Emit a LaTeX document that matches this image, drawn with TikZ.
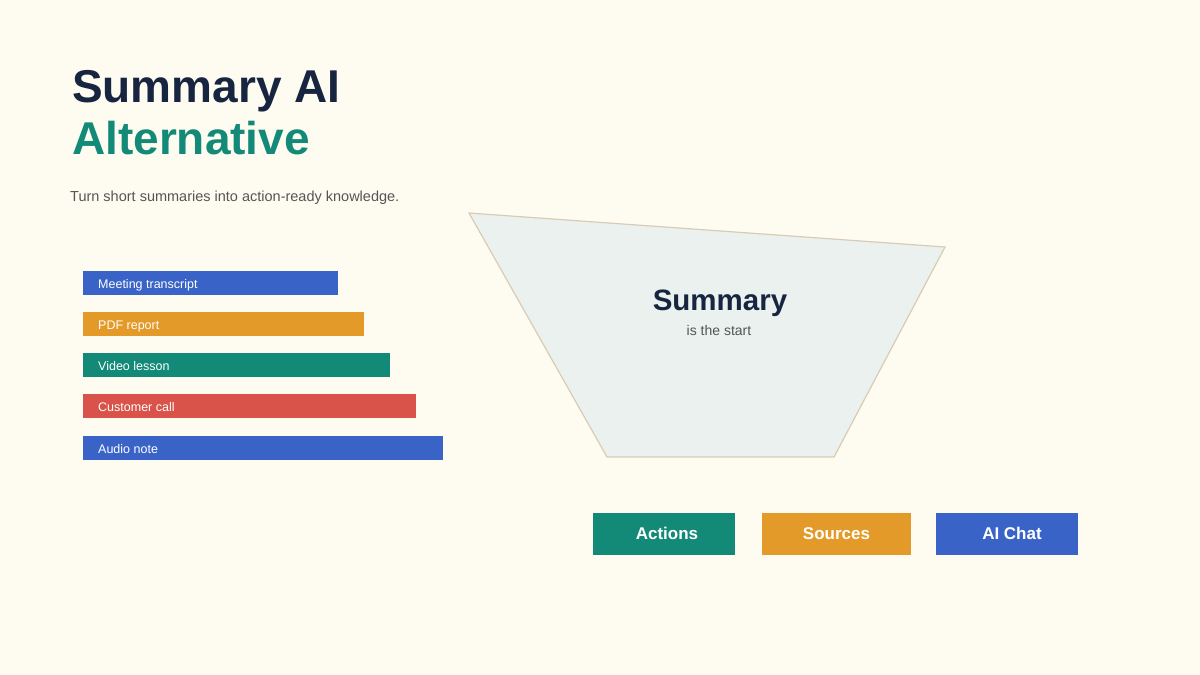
\documentclass[tikz,border=0pt]{standalone}
\usepackage{fontspec}
\setmainfont{Liberation Sans}
\definecolor{bg}{HTML}{FEFCF1}
\definecolor{navy}{HTML}{172540}
\definecolor{teal}{HTML}{138A78}
\definecolor{blu}{HTML}{3A63C8}
\definecolor{orng}{HTML}{E39A28}
\definecolor{redd}{HTML}{D9534A}
\definecolor{gry}{HTML}{555555}
\definecolor{funfill}{HTML}{EAF1EF}
\definecolor{funline}{HTML}{D8CCB4}
\begin{document}
\begin{tikzpicture}[x=1pt,y=-1pt,
  bartext/.style={anchor=base west,inner sep=0pt,text=white,font=\fontsize{12.5}{14}\selectfont},
  btntext/.style={anchor=base,inner sep=0pt,text=white,font=\fontsize{17}{20}\selectfont\bfseries}]
\fill[bg] (0,0) rectangle (1200,675);
\useasboundingbox (0,0) rectangle (1200,675);
\node[anchor=base west,inner sep=0pt,text=navy,font=\fontsize{46}{50}\selectfont\bfseries] (t1) at (72,102) {Summary AI};
\node[anchor=base west,inner sep=0pt,text=teal,font=\fontsize{46}{50}\selectfont\bfseries] (t2) at (72,154) {Alternative};
\node[anchor=base west,inner sep=0pt,text=gry,font=\fontsize{14.5}{16}\selectfont] (sub) at (70,201) {Turn short summaries into action-ready knowledge.};
% bars
\fill[blu] (83,271) rectangle (338,295);
\node[bartext] (b1) at (98,288) {Meeting transcript};
\fill[orng] (83,312) rectangle (364,336);
\node[bartext] (b2) at (98,329) {PDF report};
\fill[teal] (83,353) rectangle (390,377);
\node[bartext] (b3) at (98,370) {Video lesson};
\fill[redd] (83,394) rectangle (416,418);
\node[bartext] (b4) at (98,411) {Customer call};
\fill[blu] (83,436) rectangle (443,460);
\node[bartext] (b5) at (98,453) {Audio note};
% funnel
\draw[fill=funfill,draw=funline,line width=1.2pt] (469,213) -- (945,247) -- (834,457) -- (607,457) -- cycle;
\node[anchor=base,inner sep=0pt,text=navy,font=\fontsize{29.5}{32}\selectfont\bfseries] (sm) at (720,310) {Summary};
\node[anchor=base,inner sep=0pt,text=gry,font=\fontsize{14}{16}\selectfont] (st) at (719,335) {is the start};
% buttons
\fill[teal] (593,513) rectangle (735,555);
\node[btntext] (a1) at (667,539) {Actions};
\fill[orng] (762,513) rectangle (911,555);
\node[btntext] (a2) at (836.5,539) {Sources};
\fill[blu] (936,513) rectangle (1078,555);
\node[btntext] (a3) at (1012,539) {AI Chat};
\end{tikzpicture}
\end{document}
